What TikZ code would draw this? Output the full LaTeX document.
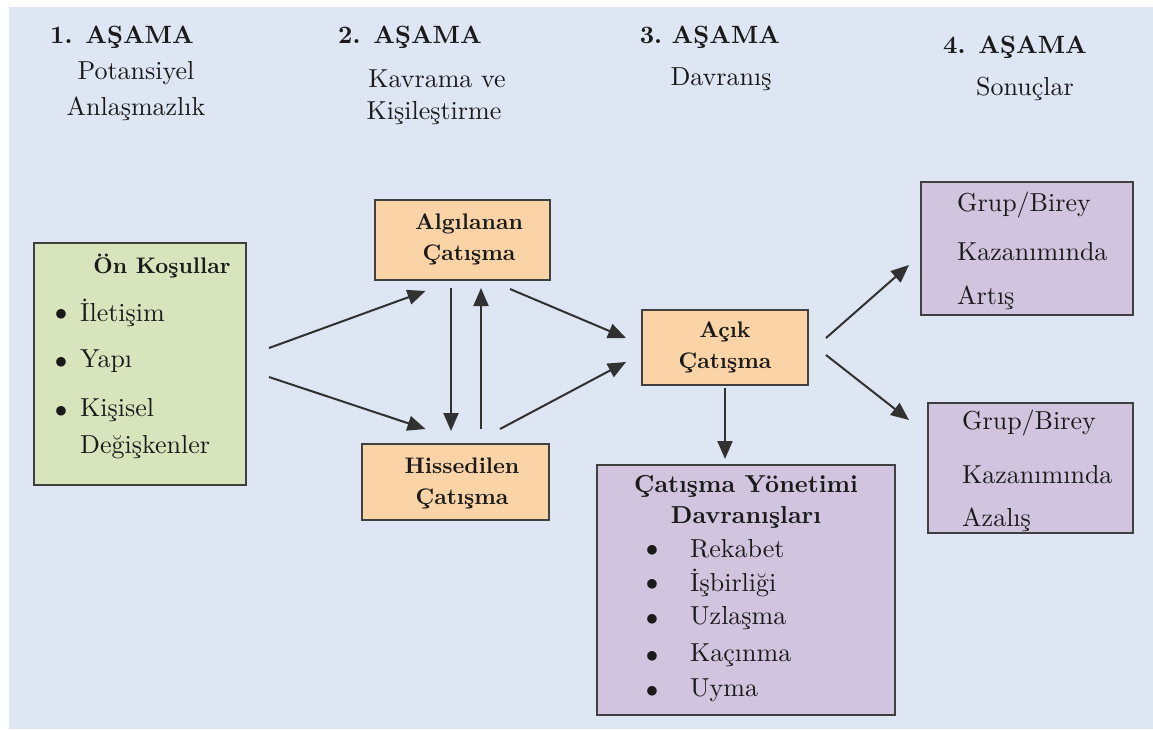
\documentclass[tikz,border=0pt]{standalone}
\usepackage{fontspec}
\setmainfont{lmroman10}[Extension=.otf,UprightFont=*-regular,BoldFont=*-bold,ItalicFont=*-italic,BoldItalicFont=*-bolditalic]
\usetikzlibrary{arrows.meta}
\definecolor{bgblue}{HTML}{DEE5F3}
\definecolor{boxgreen}{HTML}{D8E4BC}
\definecolor{boxorange}{HTML}{FAD3A6}
\definecolor{boxlav}{HTML}{D0C4DE}
\definecolor{edge}{HTML}{404040}
\definecolor{ink}{HTML}{1A1A1A}
\begin{document}
\begin{tikzpicture}[x=1pt,y=-1pt,
  box/.style={draw=edge,line width=2pt,inner sep=0pt},
  hdr/.style={font=\fontsize{25}{32}\selectfont\bfseries,text=ink,inner sep=0pt},
  sub/.style={font=\fontsize{26}{32}\selectfont,text=ink,inner sep=0pt},
  btitle/.style={font=\fontsize{22.5}{30}\selectfont\bfseries,text=ink,inner sep=0pt,align=center},
  item/.style={font=\fontsize{26}{32}\selectfont,text=ink,inner sep=0pt,anchor=west},
  bul/.style={font=\fontsize{26}{32}\selectfont,text=ink,inner sep=0pt},
  arr/.style={draw=ink!90,line width=2pt,-{Triangle[length=18pt,width=15pt]}}
]
\useasboundingbox (0,0) rectangle (1153,729);
\fill[bgblue] (9,7) rectangle (1153,729);

% headers
\node[hdr] (h1) at (122,37) {1. AŞAMA};
\node[sub] (h1a) at (136,73) {Potansiyel};
\node[sub] (h1b) at (136,109) {Anlaşmazlık};
\node[hdr] (h2) at (410,37) {2. AŞAMA};
\node[sub] (h2a) at (437,79) {Kavrama ve};
\node[sub] (h2b) at (434,113) {Kişileştirme};
\node[hdr] (h3) at (710,37) {3.\ AŞAMA};
\node[sub] (h3a) at (721,79) {Davranış};
\node[hdr] (h4) at (1015,47) {4. AŞAMA};
\node[sub] (h4a) at (1025,89) {Sonuçlar};

% boxes
\node[box,fill=boxgreen,minimum width=212pt,minimum height=242pt] (on) at (140,364) {};
\node[btitle] (ont) at (162,266) {Ön Koşullar};
\node[bul] (ob1) at (61,315) {$\bullet$};
\node[item] (oi1) at (80,313) {İletişim};
\node[bul] (ob2) at (61,363) {$\bullet$};
\node[item] (oi2) at (80,361) {Yapı};
\node[bul] (ob3) at (61,412) {$\bullet$};
\node[item] (oi3) at (80,410) {Kişisel};
\node[item] (oi4) at (80,447) {Değişkenler};

\node[box,fill=boxorange,minimum width=175pt,minimum height=80pt] (alg) at (462.5,240) {};
\node[btitle] (algt) at (469,239) {Algılanan\\[1pt]Çatışma};

\node[box,fill=boxorange,minimum width=187pt,minimum height=76pt] (his) at (455.5,482) {};
\node[btitle] (hist) at (462,483) {Hissedilen\\[1pt]Çatışma};

\node[box,fill=boxorange,minimum width=166pt,minimum height=75pt] (acik) at (725,347.5) {};
\node[btitle] (acikt) at (725,347) {Açık\\[1pt]Çatışma};

\node[box,fill=boxlav,minimum width=298pt,minimum height=250pt] (cy) at (746,590) {};
\node[btitle,font=\fontsize{24.5}{31}\selectfont\bfseries] (cyt) at (746,502) {Çatışma Yönetimi\\[0pt]Davranışları};
\node[bul] (cb1) at (652,551) {$\bullet$};
\node[item] (ci1) at (690,549) {Rekabet};
\node[bul] (cb2) at (652,585) {$\bullet$};
\node[item] (ci2) at (690,583) {İşbirliği};
\node[bul] (cb3) at (652,620) {$\bullet$};
\node[item] (ci3) at (690,618) {Uzlaşma};
\node[bul] (cb4) at (652,657) {$\bullet$};
\node[item] (ci4) at (690,655) {Kaçınma};
\node[bul] (cb5) at (652,692) {$\bullet$};
\node[item] (ci5) at (690,690) {Uyma};

\node[box,fill=boxlav,minimum width=212pt,minimum height=133pt] (g1) at (1027,248.5) {};
\node[item] (g1a) at (957,205) {Grup/Birey};
\node[item] (g1b) at (957,252) {Kazanımında};
\node[item] (g1c) at (957,298) {Artış};

\node[box,fill=boxlav,minimum width=205pt,minimum height=130pt] (g2) at (1030.5,468) {};
\node[item] (g2a) at (962,423) {Grup/Birey};
\node[item] (g2b) at (962,475) {Kazanımında};
\node[item] (g2c) at (962,520) {Azalış};

% arrows
\draw[arr] ([shift={(22,-16)}]on.east) -- ([shift={(-37,10)}]alg.south);
\draw[arr] ([shift={(22,13)}]on.east) -- ([shift={(-30,-14)}]his.north);
\draw[arr] ([shift={(-11.5,7)}]alg.south) -- ([shift={(-4.5,-12)}]his.north);
\draw[arr] ([shift={(25.5,-14)}]his.north) -- ([shift={(18.5,7)}]alg.south);
\draw[arr] ([shift={(47.5,8)}]alg.south) -- ([shift={(-15,-9.5)}]acik.west);
\draw[arr] ([shift={(44.5,-14)}]his.north) -- ([shift={(-15,14.5)}]acik.west);
\draw[arr] ([shift={(0,2)}]acik.south) -- ([shift={(-21,-5)}]cy.north);
\draw[arr] ([shift={(17,-9.5)}]acik.east) -- ([shift={(-11,16.5)}]g1.west);
\draw[arr] ([shift={(17,7.5)}]acik.east) -- ([shift={(-18,-48)}]g2.west);
\end{tikzpicture}
\end{document}
